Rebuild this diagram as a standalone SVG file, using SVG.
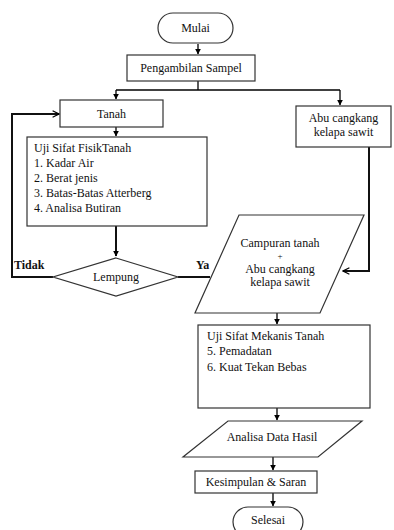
<svg xmlns="http://www.w3.org/2000/svg" width="394" height="530" viewBox="0 0 394 530">
<defs>
<marker id="ah" viewBox="0 0 10 10" refX="9" refY="5" markerWidth="6" markerHeight="6" markerUnits="userSpaceOnUse" orient="auto">
<path d="M0,0 L10,5 L0,10 z" fill="#000"/>
</marker>
<marker id="ao" viewBox="0 0 10 10" refX="9" refY="5" markerWidth="8" markerHeight="8" markerUnits="userSpaceOnUse" orient="auto">
<path d="M1,1 L9,5 L1,9" fill="none" stroke="#000" stroke-width="1.5"/>
</marker>
<style>
.s{fill:#fff;stroke:#333;stroke-width:1.2}
text{font-family:'Liberation Serif','DejaVu Serif',serif;font-size:12px;fill:#111}
.m{text-anchor:middle}
.b{font-weight:bold}
.c{fill:none;stroke:#000;stroke-width:1.3}
.k{fill:none;stroke:#111;stroke-width:2}
</style>
</defs>
<rect width="394" height="530" fill="#fff"/>
<g id="connectors">
<path class="c" d="M198,44 V54" marker-end="url(#ah)"/>
<path class="c" d="M198,81 V90"/>
<path class="c" d="M116,90 H340"/>
<path class="c" d="M116,90 V99" marker-end="url(#ah)"/>
<path class="c" d="M340,90 V105" marker-end="url(#ah)"/>
<path class="c" d="M116,127 V136" marker-end="url(#ah)"/>
<path class="k" d="M116,226 V256" marker-end="url(#ah)"/>
<path class="k" d="M53,277 H12 V114 H59" marker-end="url(#ao)"/>
<path class="k" d="M178,277 H210"/>
<path class="k" d="M369,147 V271 H343" marker-end="url(#ao)"/>
<path class="c" d="M277,313 V324" marker-end="url(#ah)"/>
<path class="c" d="M277,408 V420" marker-end="url(#ah)"/>
<path class="c" d="M273,457 V470" marker-end="url(#ah)"/>
<path class="c" d="M273,493 V506" marker-end="url(#ah)"/>
</g>
<g id="mulai">
<rect class="s" x="158" y="13" width="75" height="30" rx="15"/>
<text class="m" x="195.5" y="32">Mulai</text>
</g>
<g id="pengambilan">
<rect class="s" x="127" y="55" width="128" height="26"/>
<text class="m" x="191" y="72">Pengambilan Sampel</text>
</g>
<g id="tanah">
<rect class="s" x="60" y="100" width="103" height="27"/>
<text class="m" x="111.5" y="118">Tanah</text>
</g>
<g id="uji-fisik">
<rect class="s" x="27" y="137" width="180" height="89"/>
<text x="34" y="152">Uji Sifat FisikTanah</text>
<text x="34" y="167">1. Kadar  Air</text>
<text x="34" y="182">2. Berat jenis</text>
<text x="34" y="197">3. Batas-Batas  Atterberg</text>
<text x="34" y="212">4. Analisa Butiran</text>
</g>
<g id="lempung">
<polygon class="s" points="116,258 178,277 116,296 53,277"/>
<text class="m" x="116" y="281">Lempung</text>
</g>
<g id="label-tidak">
<text class="b" x="14" y="269">Tidak</text>
</g>
<g id="label-ya">
<text class="b" x="196" y="269">Ya</text>
</g>
<g id="abu">
<rect class="s" x="296" y="106" width="95" height="41"/>
<text class="m" x="343.5" y="122">Abu cangkang</text>
<text class="m" x="343.5" y="136">kelapa sawit</text>
</g>
<g id="campuran">
<polygon class="s" points="239,215 364,215 320,313 195,313"/>
<text class="m" x="280" y="247">Campuran tanah</text>
<text class="m" x="280" y="259" style="font-size:9px">+</text>
<text class="m" x="280" y="273">Abu cangkang</text>
<text class="m" x="280" y="286">kelapa sawit</text>
</g>
<g id="uji-mekanis">
<rect class="s" x="198" y="325" width="172" height="83"/>
<text x="207" y="340">Uji Sifat Mekanis  Tanah</text>
<text x="207" y="355">5. Pemadatan</text>
<text x="207" y="371">6. Kuat Tekan  Bebas</text>
</g>
<g id="analisa">
<polygon class="s" points="228,421 362,421 318,457 183,457"/>
<text class="m" x="272" y="441">Analisa Data Hasil</text>
</g>
<g id="kesimpulan">
<rect class="s" x="195" y="471" width="122" height="22"/>
<text class="m" x="256" y="486">Kesimpulan &amp; Saran</text>
</g>
<g id="selesai">
<rect class="s" x="233" y="507" width="70" height="30" rx="15"/>
<text class="m" x="268" y="524">Selesai</text>
</g>
</svg>
